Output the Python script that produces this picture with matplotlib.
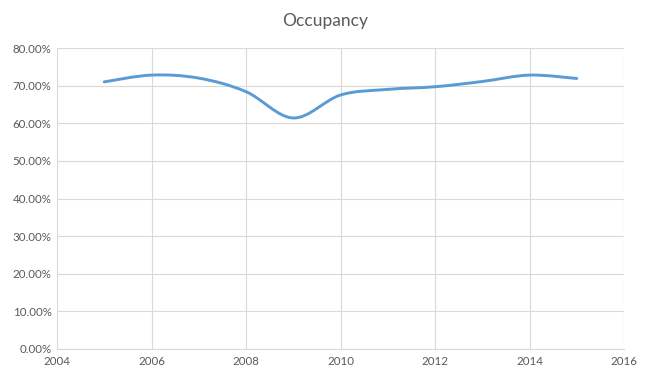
import matplotlib
matplotlib.use('Agg')
import matplotlib.pyplot as plt
from matplotlib.path import Path
from matplotlib.patches import PathPatch
from matplotlib.ticker import FuncFormatter
import numpy as np

plt.rcParams['font.family'] = ['Lato', 'DejaVu Sans']

# occupancy by year (fraction)
years = [2005, 2006, 2007, 2008, 2009, 2010, 2011, 2012, 2013, 2014, 2015]
occupancy = [0.710, 0.728, 0.720, 0.684, 0.614, 0.675, 0.690, 0.697, 0.711, 0.728, 0.719]

text_col = '#595959'
grid_col = '#d9d9d9'
line_col = '#5b9bd5'

fig = plt.figure(figsize=(6.5, 3.81), dpi=100)
ax = fig.add_axes([0.0877, 0.084, 0.8723, 0.79])

# smooth line like Excel: cubic bezier through the points (Catmull-Rom control points)
x = np.array(years, dtype=float)
y = np.array(occupancy, dtype=float)
verts = [(x[0], y[0])]
codes = [Path.MOVETO]
t = 1.0 / 6.0
for i in range(len(x) - 1):
    x0, y0 = (x[i - 1], y[i - 1]) if i > 0 else (x[i], y[i])
    x3, y3 = (x[i + 2], y[i + 2]) if i + 2 < len(x) else (x[i + 1], y[i + 1])
    c1 = (x[i] + (x[i + 1] - x0) * t, y[i] + (y[i + 1] - y0) * t)
    c2 = (x[i + 1] - (x3 - x[i]) * t, y[i + 1] - (y3 - y[i]) * t)
    verts += [c1, c2, (x[i + 1], y[i + 1])]
    codes += [Path.CURVE4] * 3
ax.add_patch(PathPatch(Path(verts, codes), facecolor='none', edgecolor=line_col,
                       lw=2.1, capstyle='round', zorder=3))

ax.set_xlim(2004, 2016)
ax.set_ylim(0, 0.8)
ax.set_xticks(range(2004, 2017, 2))
ax.set_yticks(np.arange(0, 0.81, 0.1))
ax.yaxis.set_major_formatter(FuncFormatter(lambda v, p: '%.2f%%' % (v * 100)))

ax.grid(True, color=grid_col, lw=0.8)
ax.set_axisbelow(True)
for s in ['top', 'right', 'left']:
    ax.spines[s].set_visible(False)
ax.spines['bottom'].set_color(grid_col)
ax.tick_params(length=0, labelsize=8.3, colors=text_col, pad=5)
ax.tick_params(axis='y', pad=4)

fig.suptitle('Occupancy', x=0.5, y=0.965, fontsize=12.5, color=text_col)

fig.savefig('out.png', dpi=100)
